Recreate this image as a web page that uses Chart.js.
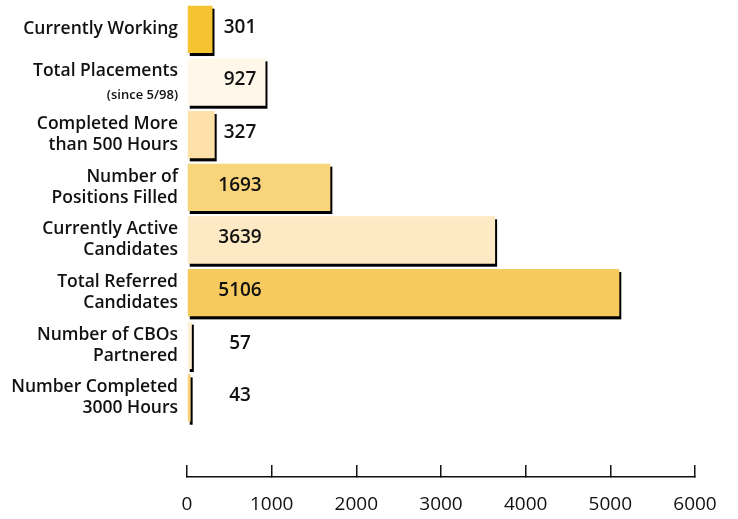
<!DOCTYPE html>
<html>
<head>
<meta charset="utf-8">
<script src="https://cdn.jsdelivr.net/npm/chart.js@4.4.1/dist/chart.umd.min.js"></script>
<style>
  html, body { margin: 0; padding: 0; background: #fff; }
  #wrap { width: 738px; height: 519px; }
</style>
</head>
<body>
<div id="wrap"><canvas id="myChart" width="738" height="519"></canvas></div>
<script>
// categorias (rótulos em várias linhas)
const categorias = [
    ['Currently Working'],
    ['Total Placements', ''],
    ['Completed More', 'than 500 Hours'],
    ['Number of', 'Positions Filled'],
    ['Currently Active', 'Candidates'],
    ['Total Referred', 'Candidates'],
    ['Number of CBOs', 'Partnered'],
    ['Number Completed', '3000 Hours']
];
const valores = [301, 927, 327, 1693, 3639, 5106, 57, 43];
const cores = ['#F5C430', '#FFF7EA', '#FDE1A9', '#F8D47B', '#FDE9C3', '#F7CA5F', '#FDEED6', '#F8D27E'];
const ticksX = [0, 1000, 2000, 3000, 4000, 5000, 6000];
const nota = '(since 5/98)';

const fonte = "'Open Sans', sans-serif";

// sombra preta atrás de cada barra
const sombra = {
    id: 'sombra',
    beforeDatasetsDraw(chart) {
        const ctx = chart.ctx;
        const meta = chart.getDatasetMeta(0);
        ctx.save();
        ctx.fillStyle = '#000';
        meta.data.forEach(el => {
            const p = el.getProps(['x', 'y', 'base', 'height'], true);
            ctx.fillRect(p.base + 2, p.y - p.height / 2 + 3, p.x - p.base, p.height);
        });
        ctx.restore();
    }
};

// valores em negrito e a nota pequena
const textos = {
    id: 'textos',
    afterDatasetsDraw(chart) {
        const ctx = chart.ctx;
        const meta = chart.getDatasetMeta(0);
        const left = chart.chartArea.left;
        ctx.save();
        ctx.fillStyle = '#111';
        ctx.font = "600 19px " + fonte;
        ctx.textAlign = 'center';
        ctx.textBaseline = 'middle';
        meta.data.forEach((el, i) => {
            ctx.fillText(valores[i], left + 53, el.y - 2);
        });
        // nota "(since 5/98)"
        const y = chart.scales.y.getPixelForValue(1);
        ctx.font = "600 13px " + fonte;
        ctx.textAlign = 'right';
        ctx.fillText(nota, left - 9, y + 13);
        ctx.restore();
    }
};

const ctx = document.getElementById('myChart').getContext('2d');
const myChart = new Chart(ctx, {
    type: 'bar',
    data: {
        labels: [...categorias, ''], // espaço vazio antes do eixo
        datasets: [{
            data: valores,
            backgroundColor: cores,
            borderWidth: 0,
            barPercentage: 0.9,
            categoryPercentage: 1.0
        }]
    },
    options: {
        indexAxis: 'y',
        responsive: false,
        animation: false,
        layout: { padding: { top: 3, right: 43, bottom: 0, left: 0 } },
        plugins: {
            legend: { display: false },
            tooltip: { enabled: false }
        },
        scales: {
            y: {
                grid: { display: false, drawTicks: false },
                border: { display: false },
                ticks: {
                    color: '#111',
                    padding: 9,
                    font: { family: fonte, size: 17.5, weight: '600', lineHeight: 1.2 }
                },
                afterFit(scale) {
                    scale.width = 187;
                    scale.paddingTop = 0;
                    scale.paddingBottom = 0;
                }
            },
            x: {
                min: 0,
                max: 6000,
                afterBuildTicks(scale) { scale.ticks = ticksX.map(v => ({ value: v })); },
                grid: {
                    drawOnChartArea: false,
                    drawTicks: true,
                    tickLength: -12,
                    color: '#111',
                    lineWidth: 1.5
                },
                border: { display: true, color: '#111', width: 1.5 },
                ticks: {
                    color: '#111',
                    padding: 28,
                    maxRotation: 0,
                    callback: (v) => String(v),
                    font: { family: fonte, size: 19, weight: '400' }
                },
                afterFit(scale) {
                    scale.height = 42;
                    scale.paddingLeft = 0;
                    scale.paddingRight = 0;
                }
            }
        }
    },
    plugins: [sombra, textos]
});
</script>
</body>
</html>
